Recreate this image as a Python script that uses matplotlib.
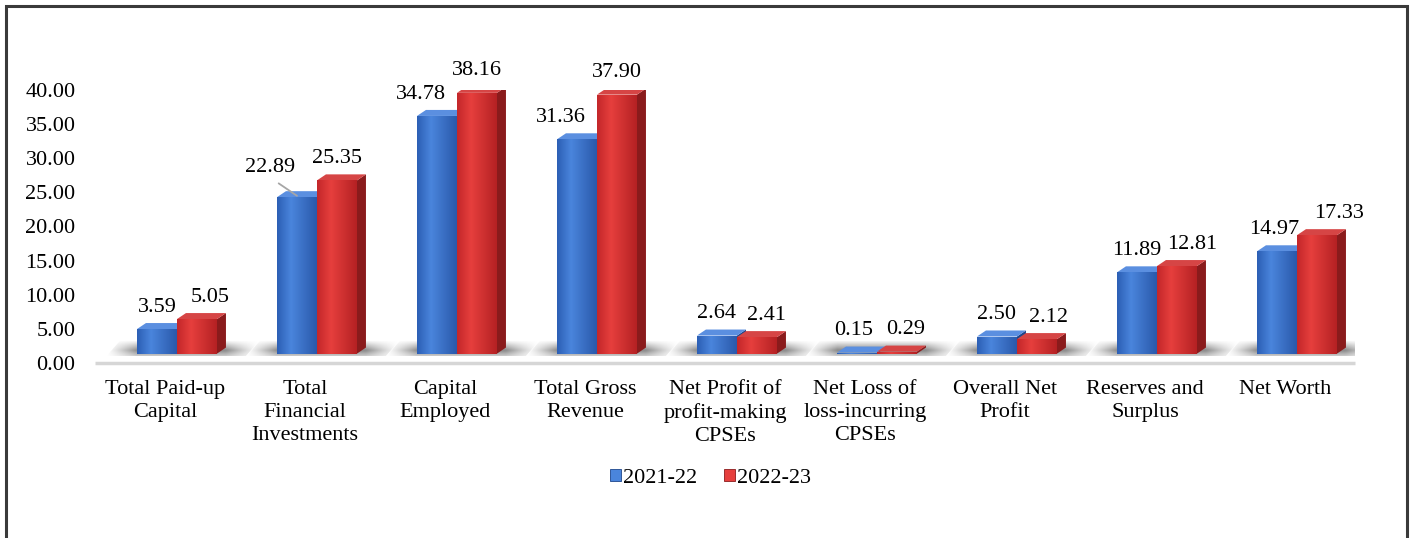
import numpy as np
import matplotlib
matplotlib.use('Agg')
from matplotlib import pyplot as plt
from matplotlib.patches import Polygon, Patch, Rectangle
from matplotlib.colors import to_rgb

categories = ['Total Paid-up\nCapital', 'Total\nFinancial\nInvestments', 'Capital\nEmployed',
              'Total Gross\nRevenue', 'Net Profit of\nprofit-making\nCPSEs',
              'Net Loss of\nloss-incurring\nCPSEs', 'Overall Net\nProfit',
              'Reserves and\nSurplus', 'Net Worth']
fy2122 = [3.59, 22.89, 34.78, 31.36, 2.64, 0.15, 2.50, 11.89, 14.97]
fy2223 = [5.05, 25.35, 38.16, 37.90, 2.41, 0.29, 2.12, 12.81, 17.33]
series_names = ['2021-22', '2022-23']
yticks = [0, 5, 10, 15, 20, 25, 30, 35, 40]

# look of the fake 3d bars
FONT = 'Liberation Serif'
FS = 16
FLOOR = 1.4        # bars sit a bit above the 0 line (3d floor)
BAR_W = 0.2857
SHIFT = 0.0857
DX = 0.064         # depth to the right
DY = 0.88          # depth upward
PX = 6.83          # pixels per y unit, for label offsets
styles = [
    dict(front=('#2c5fb5', '#4a85dc', '#2a59ab'), side='#1d468c', top='#5b8fe0'),
    dict(front=('#c4272a', '#e63f3d', '#b52123'), side='#8a1b1c', top='#d64545'),
]
# label nudges in pixels (dx, dy), as placed in the original
label_nudge = {(0, 1): (-27, 6), (0, 2): (-16, 0), (0, 3): (-16, 0),
               (0, 5): (-3, 0), (0, 8): (-3, 0),
               (1, 0): (13, 0), (1, 4): (10, 0), (1, 5): (9, 0), (1, 6): (12, 0),
               (1, 7): (15, 0), (1, 8): (22, 0)}


def hgrad(colors, n=64):
    cs = [np.array(to_rgb(c)) for c in colors]
    t = np.linspace(0, 1, n)
    out = np.zeros((1, n, 3))
    for k, tt in enumerate(t):
        if tt < 0.35:
            f = tt / 0.35
            out[0, k] = cs[0] * (1 - f) + cs[1] * f
        else:
            f = (tt - 0.35) / 0.65
            out[0, k] = cs[1] * (1 - f) + cs[2] * f
    return out


def fill_grad(ax, verts, img, zorder):
    poly = Polygon(verts, closed=True, facecolor='none', edgecolor='none', zorder=zorder)
    ax.add_patch(poly)
    xs = [v[0] for v in verts]
    ys = [v[1] for v in verts]
    im = ax.imshow(img, extent=(min(xs), max(xs), min(ys), max(ys)), aspect='auto',
                   interpolation='bilinear', origin='lower', zorder=zorder)
    im.set_clip_path(poly)
    return im


fig = plt.figure(figsize=(14.24, 5.38), dpi=100)
ax = fig.add_axes([95 / 1424, 0.325, 1260 / 1424, 0.508])

series = [fy2122, fy2223]
x = np.arange(len(categories))

# floor shadows around each group
for i in x:
    bl = i + SHIFT - BAR_W
    br = i + SHIFT + BAR_W + DX
    l = bl - 0.22
    r = br + 0.24
    nx, ny = 90, 20
    tx = np.linspace(l, r, nx)
    h = np.ones(nx)
    h[tx < bl] = (tx[tx < bl] - l) / (bl - l)
    h[tx > br] = (r - tx[tx > br]) / (r - br)
    ty = np.linspace(0, 1, ny)
    v = np.clip(1 - np.abs(ty - 0.35) / 0.65, 0, 1)
    a = np.zeros((ny, nx, 4))
    a[:, :, :3] = 0.42
    a[:, :, 3] = 0.8 * np.outer(v, h ** 1.2)
    verts = [(l, FLOOR - 0.4), (r - 0.1, FLOOR - 0.4), (r, FLOOR + 1.9), (l + 0.1, FLOOR + 1.9)]
    fill_grad(ax, verts, a, 1)

ax.plot([-0.5, len(categories) - 0.5], [0, 0], color='#d6d6d6', lw=2.5, zorder=2,
        clip_on=False, solid_capstyle='butt')

for s, vals in enumerate(series):
    st = styles[s]
    for i, v in zip(x, vals):
        x0 = i + SHIFT - BAR_W + s * BAR_W
        x1 = x0 + BAR_W
        y0 = FLOOR
        y1 = FLOOR + v
        z = 3 + s
        # side face
        side = Polygon([(x1, y0), (x1 + DX, y0 + DY), (x1 + DX, y1 + DY), (x1, y1)],
                       closed=True, facecolor=st['side'], edgecolor='none', zorder=z)
        ax.add_patch(side)
        # top face
        top = Polygon([(x0, y1), (x1, y1), (x1 + DX, y1 + DY), (x0 + DX, y1 + DY)],
                      closed=True, facecolor=st['top'], edgecolor='none', zorder=z)
        ax.add_patch(top)
        # front face with gradient
        fill_grad(ax, [(x0, y0), (x1, y0), (x1, y1), (x0, y1)], hgrad(st['front']), z)

        # value label
        cx = (x0 + x1) / 2
        dx, dy = label_nudge.get((s, i), (0, 0))
        if (s, i) == (0, 1):
            ax.annotate(f'{v:.2f}', xy=(cx, y1 + 0.2), xytext=(dx, 3.2 * PX + dy),
                        textcoords='offset pixels', ha='center', va='center',
                        fontsize=FS, family=FONT, zorder=10,
                        arrowprops=dict(arrowstyle='-', color='#a6a6a6', lw=1.3,
                                        relpos=(0.5, 0.0), shrinkA=4, shrinkB=0))
        else:
            ax.annotate(f'{v:.2f}', xy=(cx, y1 + 3.2), xytext=(dx, dy),
                        textcoords='offset pixels', ha='center', va='center',
                        fontsize=FS, family=FONT, zorder=10, annotation_clip=False)

ax.set_xlim(-0.5, len(categories) - 0.5)
ax.set_ylim(0, 40)
ax.set_yticks(yticks)
ax.set_yticklabels([f'{t:.2f}' for t in yticks], fontsize=FS, family=FONT)
ax.set_xticks(x)
ax.set_xticklabels(categories, fontsize=FS, family=FONT, linespacing=1.3)
ax.tick_params(axis='y', length=0, pad=14)
ax.tick_params(axis='x', length=0, pad=12)
for sp in ax.spines.values():
    sp.set_visible(False)
ax.patch.set_alpha(0)

handles = [Patch(facecolor=styles[k]['front'][1], edgecolor=styles[k]['side'], lw=0.6)
           for k in range(2)]
fig.legend(handles, series_names, loc='center', bbox_to_anchor=(0.499, 0.111),
           ncol=2, frameon=False, handlelength=0.5, handleheight=0.5,
           handletextpad=0.1, columnspacing=1.2, prop=dict(family=FONT, size=FS))

# outer frame
fig.add_artist(Rectangle((6 / 1424, -0.02), 1401 / 1424, 1.02 - 6 / 538,
                         transform=fig.transFigure, fill=False, edgecolor='#3a3a3a', lw=2.2))

fig.savefig('out.png', dpi=100)
